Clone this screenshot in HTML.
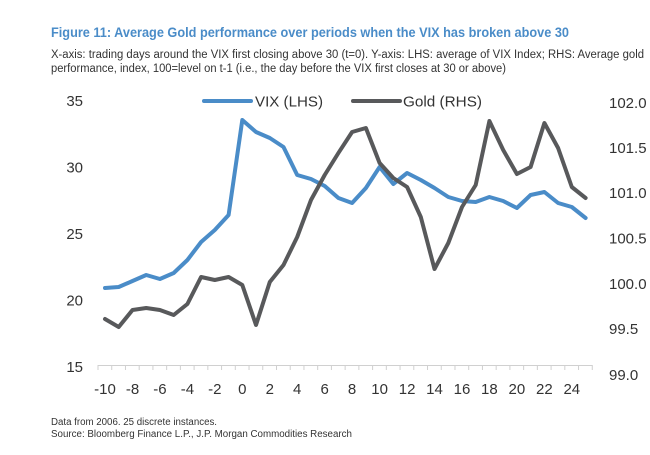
<!DOCTYPE html>
<html><head><meta charset="utf-8"><style>
html,body{margin:0;padding:0;background:#fff;}
svg{display:block;font-family:"Liberation Sans",Arial,sans-serif;}
</style></head><body>
<svg width="650" height="455" viewBox="0 0 650 455" xmlns="http://www.w3.org/2000/svg">
<text x="51" y="37" font-size="14" font-weight="bold" fill="#4a8cc8" textLength="518" lengthAdjust="spacingAndGlyphs">Figure 11: Average Gold performance over periods when the VIX has broken above 30</text>
<text x="51" y="58" font-size="11.5" fill="#333" textLength="593" lengthAdjust="spacingAndGlyphs">X-axis: trading days around the VIX first closing above 30 (t=0). Y-axis: LHS: average of VIX Index; RHS: Average gold</text>
<text x="51" y="72" font-size="11.5" fill="#333" textLength="455" lengthAdjust="spacingAndGlyphs">performance, index, 100=level on t-1 (i.e., the day before the VIX first closes at 30 or above)</text>

<g font-size="15" fill="#333" text-anchor="end">
<text x="83" y="106">35</text><text x="83" y="172.5">30</text><text x="83" y="239">25</text><text x="83" y="305.5">20</text><text x="83" y="372">15</text>
</g>
<g font-size="15" fill="#333">
<text x="609" y="108">102.0</text><text x="609" y="153">101.5</text><text x="609" y="198">101.0</text><text x="609" y="243.5">100.5</text><text x="609" y="289">100.0</text><text x="609" y="334">99.5</text><text x="609" y="380">99.0</text>
</g>

<g stroke="#d0d0d0" stroke-width="1">
<line x1="98" y1="365.5" x2="592.5" y2="365.5"/>
<path id="ticks" d=""/>
</g>
<g id="tk" stroke="#d0d0d0" stroke-width="1"></g>

<g font-size="15" fill="#333" text-anchor="middle">
<text x="105" y="394">-10</text><text x="132.5" y="394">-8</text><text x="159.9" y="394">-6</text><text x="187.4" y="394">-4</text><text x="214.8" y="394">-2</text><text x="242.3" y="394">0</text><text x="269.8" y="394">2</text><text x="297.2" y="394">4</text><text x="324.7" y="394">6</text><text x="352.1" y="394">8</text><text x="379.6" y="394">10</text><text x="407.1" y="394">12</text><text x="434.5" y="394">14</text><text x="462" y="394">16</text><text x="489.4" y="394">18</text><text x="516.9" y="394">20</text><text x="544.4" y="394">22</text><text x="571.8" y="394">24</text>
</g>

<polyline fill="none" stroke="#4a8cc8" stroke-width="4" stroke-linejoin="round" stroke-linecap="round" points="105,288 118.7,287 132.5,281 146.2,275 159.9,279 173.7,273 187.4,260 201.1,242 214.8,230 228.6,215 242.3,120 256,132 269.8,138 283.5,147 297.2,175 311,179 324.7,186 338.4,198 352.1,203 365.9,188 379.6,167 393.3,184 407.1,173 420.8,180 434.5,188 448.3,197 462,201 475.7,202 489.4,197 503.2,201 516.9,208 530.6,195 544.4,192 558.1,203 571.8,207 585.6,218"/>
<polyline fill="none" stroke="#58595b" stroke-width="4" stroke-linejoin="round" stroke-linecap="round" points="105,319 118.7,327 132.5,310 146.2,308 159.9,310 173.7,315 187.4,304 201.1,277 214.8,280 228.6,277 242.3,285 256,325 269.8,282 283.5,265 297.2,237 311,200 324.7,175 338.4,153 352.1,132 365.9,128 379.6,163 393.3,178 407.1,187 420.8,217 434.5,269 448.3,243 462,207 475.7,185 489.4,121 503.2,150 516.9,174 530.6,167 544.4,123 558.1,148 571.8,187 585.6,198"/>

<line x1="204" y1="101" x2="251" y2="101" stroke="#4a8cc8" stroke-width="4" stroke-linecap="round"/>
<text x="255" y="106.5" font-size="15" fill="#333" textLength="68" lengthAdjust="spacingAndGlyphs">VIX (LHS)</text>
<line x1="353" y1="101" x2="400" y2="101" stroke="#58595b" stroke-width="4" stroke-linecap="round"/>
<text x="403" y="106.5" font-size="15" fill="#333" textLength="79" lengthAdjust="spacingAndGlyphs">Gold (RHS)</text>

<text x="51" y="425" font-size="10" fill="#333" textLength="166" lengthAdjust="spacingAndGlyphs">Data from 2006. 25 discrete instances.</text>
<text x="51" y="437" font-size="10" fill="#333" textLength="301" lengthAdjust="spacingAndGlyphs">Source: Bloomberg Finance L.P., J.P. Morgan Commodities Research</text>
</svg>
<script>
var g=document.getElementById('tk'),s='';
for(var i=0;i<=36;i++){var x=98+i*13.73;s+='<line x1="'+x+'" y1="365" x2="'+x+'" y2="370"/>';}
g.innerHTML=s;
</script>
</body></html>
